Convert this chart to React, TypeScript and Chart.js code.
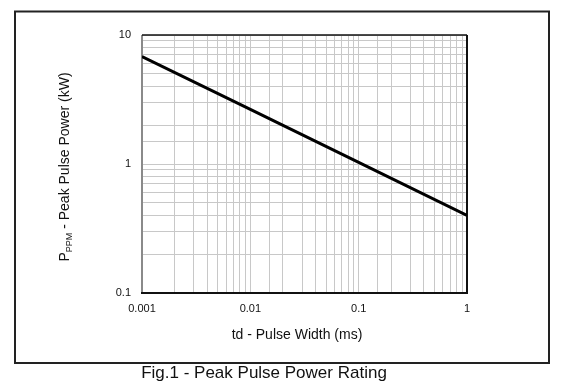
import React, { useEffect, useRef } from "react";
import { Chart, registerables } from "chart.js";

Chart.register(...registerables);

const pulseWidthMs = [0.001, 0.01, 0.1, 1];
const peakPowerKW = [6.8, 2.65, 1.03, 0.4];
const xTickLabels = ["0.001", "0.01", "0.1", "1"];
const yTickLabels = ["0.1", "1", "10"];
const xTitle = "td - Pulse Width (ms)";
const yTitleMain = "P";
const yTitleSub = "PPM";
const yTitleRest = " - Peak Pulse Power (kW)";
const caption = "Fig.1 - Peak Pulse Power Rating";

const FONT = "'Liberation Sans', Arial, sans-serif";

const isDecade = (v: number) => {
  const l = Math.log10(v);
  return Math.abs(l - Math.round(l)) < 1e-6;
};

const labelFor = (v: number, labels: string[]) => {
  if (!isDecade(v)) return "";
  const found = labels.find((s) => Math.abs(parseFloat(s) - v) < 1e-9 * Math.max(1, v));
  return found ?? "";
};

const decorPlugin = {
  id: "decor",
  beforeDatasetsDraw(chart: any) {
    const { ctx, chartArea } = chart;
    const { left, right, top, bottom } = chartArea;
    ctx.save();
    ctx.strokeStyle = "#8a8a8a";
    ctx.lineWidth = 2;
    ctx.beginPath();
    ctx.moveTo(left, top);
    ctx.lineTo(left, bottom);
    ctx.stroke();
    ctx.strokeStyle = "#111";
    ctx.lineWidth = 1.5;
    ctx.beginPath();
    ctx.moveTo(left, top);
    ctx.lineTo(right, top);
    ctx.stroke();
    ctx.lineWidth = 2;
    ctx.beginPath();
    ctx.moveTo(right, top);
    ctx.lineTo(right, bottom);
    ctx.moveTo(left - 1, bottom);
    ctx.lineTo(right + 1, bottom);
    ctx.stroke();
    ctx.restore();
  },
  afterDraw(chart: any) {
    const { ctx } = chart;
    ctx.save();
    ctx.strokeStyle = "#222";
    ctx.lineWidth = 2;
    ctx.strokeRect(15, 11.5, 534, 351.5);

    ctx.fillStyle = "#111";
    ctx.font = `14px ${FONT}`;
    ctx.textAlign = "center";
    ctx.textBaseline = "middle";
    ctx.fillText(xTitle, 297, 335);

    const mainFont = `14px ${FONT}`;
    const subFont = `9px ${FONT}`;
    ctx.font = mainFont;
    const w1 = ctx.measureText(yTitleMain).width;
    const w3 = ctx.measureText(yTitleRest).width;
    ctx.font = subFont;
    const w2 = ctx.measureText(yTitleSub).width;
    const total = w1 + w2 + w3;
    ctx.translate(69, 167);
    ctx.rotate(-Math.PI / 2);
    ctx.textAlign = "left";
    ctx.textBaseline = "alphabetic";
    let x = -total / 2;
    ctx.font = mainFont;
    ctx.fillText(yTitleMain, x, 0);
    x += w1;
    ctx.font = subFont;
    ctx.fillText(yTitleSub, x, 3);
    x += w2;
    ctx.font = mainFont;
    ctx.fillText(yTitleRest, x, 0);
    ctx.restore();

    ctx.save();
    ctx.fillStyle = "#111";
    ctx.font = `17px ${FONT}`;
    ctx.textAlign = "center";
    ctx.textBaseline = "middle";
    ctx.fillText(caption, 264, 373);
    ctx.restore();
  },
};

export default function App() {
  const ref = useRef<HTMLCanvasElement | null>(null);

  useEffect(() => {
    document.body.style.margin = "0";
    const canvas = ref.current;
    if (!canvas) return;
    const chart = new Chart(canvas, {
      type: "line",
      data: {
        datasets: [
          {
            data: pulseWidthMs.map((x, i) => ({ x, y: peakPowerKW[i] })),
            borderColor: "#000",
            borderWidth: 3,
            pointRadius: 0,
            tension: 0,
            fill: false,
          },
        ],
      },
      options: {
        animation: false,
        responsive: false,
        devicePixelRatio: 1,
        layout: { padding: { left: 102, top: 35, right: 96, bottom: 67 } },
        plugins: {
          legend: { display: false },
          tooltip: { enabled: false },
          title: { display: false },
        },
        scales: {
          x: {
            type: "logarithmic",
            min: 0.001,
            max: 1,
            afterFit: (s: any) => {
              s.height = 30;
            },
            border: { display: false },
            grid: { color: "#c8c8c8", lineWidth: 1, drawTicks: false, tickLength: 0 },
            ticks: {
              autoSkip: false,
              maxRotation: 0,
              padding: 9,
              color: "#111",
              font: { family: FONT, size: 11 },
              callback: (v: any) => labelFor(Number(v), xTickLabels),
            },
          },
          y: {
            type: "logarithmic",
            min: 0.1,
            max: 10,
            afterFit: (s: any) => {
              s.width = 40;
            },
            border: { display: false },
            grid: { color: "#c8c8c8", lineWidth: 1, drawTicks: false, tickLength: 0 },
            ticks: {
              autoSkip: false,
              padding: 11,
              color: "#111",
              font: { family: FONT, size: 11 },
              callback: (v: any) => labelFor(Number(v), yTickLabels),
            },
          },
        },
      },
      plugins: [decorPlugin],
    } as any);
    return () => chart.destroy();
  }, []);

  return (
    <div style={{ width: 563, height: 390, position: "relative" }}>
      <canvas ref={ref} width={563} height={390} style={{ display: "block" }} />
    </div>
  );
}
